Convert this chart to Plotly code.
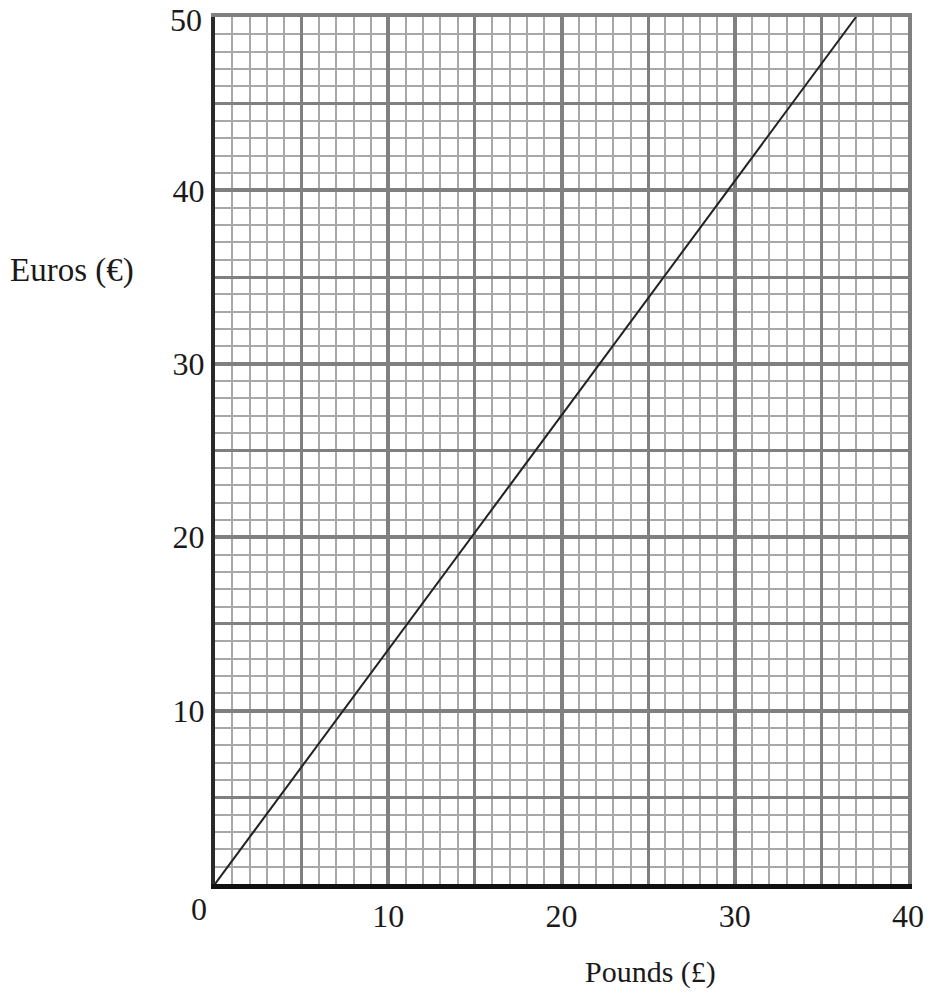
import plotly.graph_objects as go

# Data
pounds = [0, 37]
euros = [0, 50]
x_tick_vals = [10, 20, 30, 40]
x_tick_text = ["10", "20", "30", "40"]
y_tick_vals = [10, 20, 30, 40, 50]
y_tick_text = ["10", "20", "30", "40", "50"]
x_title = "Pounds (£)"
y_title = "Euros (€)"

FONT = "Liberation Serif"
MAJOR = "#808080"
MINOR = "#a8a8a8"
TXT = "#1a1a1a"

W, H = 930, 997
PL, PR, PT, PB = 215, 908, 17, 884  # plot area in pixels

fig = go.Figure()
fig.add_trace(go.Scatter(x=pounds, y=euros, mode="lines",
                         line=dict(color="#222222", width=2),
                         xaxis="x2", yaxis="y2", showlegend=False,
                         hoverinfo="skip"))

fig.update_layout(
    width=W, height=H,
    margin=dict(l=PL, r=W - PR, t=PT, b=H - PB),
    plot_bgcolor="white", paper_bgcolor="white",
    font=dict(family=FONT, size=32, color=TXT),
    xaxis=dict(range=[0, 40], tickvals=x_tick_vals, ticktext=x_tick_text,
               showgrid=True, gridcolor=MAJOR, gridwidth=4,
               minor=dict(dtick=1, tick0=0, showgrid=True, gridcolor=MINOR, gridwidth=2),
               showline=True, linecolor="#111111", linewidth=5,
               zeroline=False, ticks="", ticklabelstandoff=0, automargin=False,
               tickfont=dict(family=FONT, size=32, color=TXT)),
    yaxis=dict(range=[0, 50], tickvals=y_tick_vals[:-1], ticktext=y_tick_text[:-1],
               showgrid=True, gridcolor=MAJOR, gridwidth=4,
               minor=dict(dtick=1, tick0=0, showgrid=True, gridcolor=MINOR, gridwidth=2),
               showline=True, linecolor="#2a2a2a", linewidth=4,
               zeroline=False, ticks="", ticklabelstandoff=0, automargin=False,
               tickfont=dict(family=FONT, size=32, color=TXT)),
    xaxis2=dict(range=[0, 40], overlaying="x", side="top", dtick=5, tick0=0,
                showgrid=True, gridcolor=MAJOR, gridwidth=3,
                showline=True, linecolor=MAJOR, linewidth=4, automargin=False,
                zeroline=False, showticklabels=False, ticks=""),
    yaxis2=dict(range=[0, 50], overlaying="y", side="right", dtick=5, tick0=0,
                showgrid=True, gridcolor=MAJOR, gridwidth=3,
                showline=True, linecolor=MAJOR, linewidth=4, automargin=False,
                zeroline=False, showticklabels=False, ticks=""),
    annotations=[
        dict(x=0, y=0, xref="x", yref="y", text="0", showarrow=False,
             xanchor="center", yanchor="top", xshift=-16, yshift=-5,
             font=dict(family=FONT, size=32, color=TXT)),
        # top y label drawn as annotation (plotly hides it at the figure edge)
        dict(x=0, y=y_tick_vals[-1], xref="x", yref="y", text=y_tick_text[-1],
             showarrow=False, xanchor="right", yanchor="middle",
             xshift=-11, yshift=-3,
             font=dict(family=FONT, size=32, color=TXT)),
    ],
)

def to_paper(px, py):
    return ((px - PL) / (PR - PL), (PB - py) / (PB - PT))

ax_, ay_ = to_paper(650, 972)
fig.add_annotation(x=ax_, y=ay_, xref="paper", yref="paper", text=x_title,
                   showarrow=False, xanchor="center", yanchor="middle",
                   font=dict(family=FONT, size=30, color=TXT))
ax_, ay_ = to_paper(72, 270)
fig.add_annotation(x=ax_, y=ay_, xref="paper", yref="paper", text=y_title,
                   showarrow=False, xanchor="center", yanchor="middle",
                   font=dict(family=FONT, size=33, color=TXT))

fig.write_html("out.html", config={"displayModeBar": False},
               post_script="document.body.style.margin='0px';")
